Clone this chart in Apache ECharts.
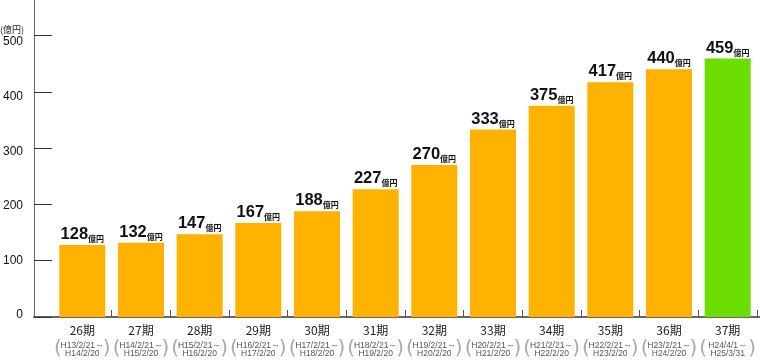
<!DOCTYPE html>
<html><head><meta charset="utf-8">
<script src="https://cdn.jsdelivr.net/npm/echarts@6/dist/echarts.min.js"></script>
<style>html,body{margin:0;padding:0;background:#fff}#c{width:760px;height:360px}</style>
</head><body><div id="c"></div>
<script>
const periods = ['26期','27期','28期','29期','30期','31期','32期','33期','34期','35期','36期','37期'];
const startDates = ['H13/2/21～','H14/2/21～','H15/2/21～','H16/2/21～','H17/2/21～','H18/2/21～','H19/2/21～','H20/2/21～','H21/2/21～','H22/2/21～','H23/2/21～','H24/4/1～'];
const endDates = ['H14/2/20','H15/2/20','H16/2/20','H17/2/20','H18/2/20','H19/2/20','H20/2/20','H21/2/20','H22/2/20','H23/2/20','H24/2/20','H25/3/31'];
const values = [128,132,147,167,188,227,270,333,375,417,440,459];
const yTicks = [0,100,200,300,400,500];
const unitLabel = '(億円)';
const valueUnit = '億円';

// style: vertical shift (px, downward) of each y tick label relative to its tick
const yLabelShift = {0: -2, 100: 0, 200: 1, 300: 3.4, 400: 4.7, 500: 6};

const chart = echarts.init(document.getElementById('c'), null, {renderer: 'canvas'});
const yMax = 563;
const numFont = '"Liberation Sans", Arial, sans-serif';
const cjk = '"Noto Sans CJK JP", "Noto Sans", sans-serif';

const yRich = {};
yTicks.forEach(function (v) {
  const s = yLabelShift[v] || 0;
  yRich['t' + v] = {
    fontSize: 12, lineHeight: 14, color: '#111', fontFamily: numFont,
    padding: s >= 0 ? [2 * s, 0, 0, 0] : [0, 0, -2 * s, 0]
  };
});

chart.setOption({
  animation: false,
  backgroundColor: '#fff',
  graphic: [{
    type: 'text', left: 0, top: 25,
    style: {text: unitLabel, font: '9px ' + cjk, fill: '#222'}
  }],
  grid: [
    {left: 53, right: 3, top: 0, bottom: 43},
    {left: 32, right: 0, top: 0, bottom: 43}
  ],
  xAxis: [
    {
      type: 'category', gridIndex: 0, data: periods,
      axisLine: {show: false},
      axisTick: {show: true, inside: true, length: 7, interval: function (i) { return i !== 0; }, lineStyle: {color: '#555', width: 1}},
      axisLabel: {
        interval: 0, margin: 2.5,
        formatter: function (v, i) {
          return '{a|' + v + '}\n{s|' + startDates[i] + '}\n{s|' + endDates[i] + '}';
        },
        rich: {
          a: {fontSize: 12, lineHeight: 22, color: '#222', fontFamily: cjk},
          s: {fontSize: 8.5, lineHeight: 8, color: '#555', fontFamily: 'Liberation Sans, Arial, sans-serif'}
        }
      },
      splitLine: {show: false}
    },
    {
      type: 'category', gridIndex: 0, data: periods, position: 'bottom',
      axisLine: {show: false}, axisTick: {show: false}, splitLine: {show: false},
      axisLabel: {
        interval: 0, margin: 22,
        formatter: function () { return '{p|(}{w|}{p|)}'; },
        rich: {
          p: {fontSize: 20, lineHeight: 20, color: '#aaa', fontFamily: 'DejaVu Sans, sans-serif'},
          w: {width: 41, lineHeight: 20}
        }
      }
    },
    {
      type: 'value', gridIndex: 1, min: 0, max: 1,
      axisLine: {show: true, lineStyle: {color: '#666', width: 2}},
      axisTick: {show: false}, axisLabel: {show: false}, splitLine: {show: false}
    }
  ],
  yAxis: [
    {type: 'value', gridIndex: 0, min: 0, max: yMax, show: false, splitLine: {show: false}},
    {
      type: 'value', gridIndex: 1, min: 0, max: yMax,
      axisLine: {show: true, lineStyle: {color: '#666', width: 1}},
      axisTick: {show: true, inside: true, length: 18, customValues: yTicks, lineStyle: {color: '#333'}},
      axisLabel: {
        customValues: yTicks, margin: 11,
        formatter: function (v) { return '{t' + v + '|' + v + '}'; },
        rich: yRich
      },
      splitLine: {show: false}
    }
  ],
  series: [{
    type: 'bar', xAxisIndex: 0, yAxisIndex: 0,
    data: values,
    barWidth: 46,
    itemStyle: {
      color: function (p) { return p.dataIndex === values.length - 1 ? '#6CDD00' : '#FFB300'; }
    },
    label: {
      show: true, position: 'top', distance: 2,
      formatter: function (p) { return '{n|' + p.value + '}{u|' + valueUnit + '}'; },
      rich: {
        n: {fontSize: 16.5, lineHeight: 17, fontWeight: 'bold', color: '#111', fontFamily: numFont, verticalAlign: 'bottom'},
        u: {fontSize: 8, lineHeight: 12, fontWeight: 'bold', color: '#111', fontFamily: cjk, verticalAlign: 'bottom'}
      }
    }
  }]
});
</script>
</body></html>
